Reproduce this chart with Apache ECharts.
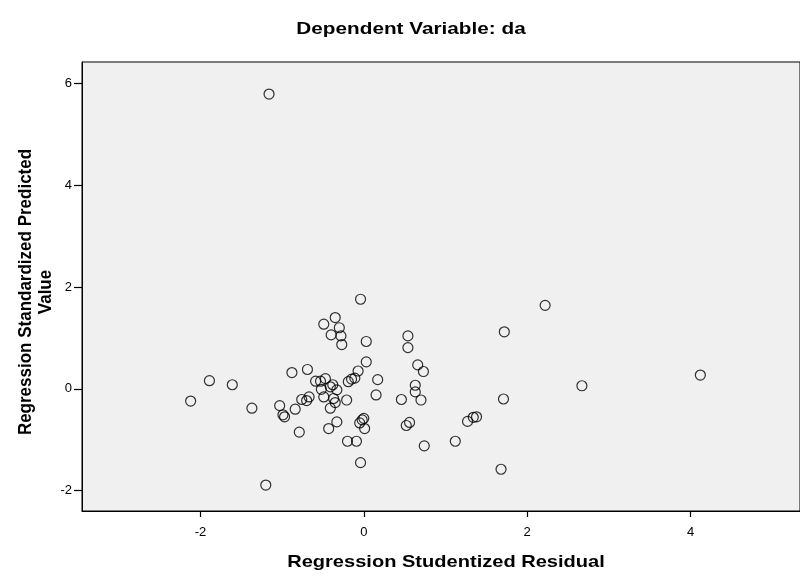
<!DOCTYPE html>
<html><head><meta charset="utf-8">
<script src="https://cdn.jsdelivr.net/npm/echarts@6/dist/echarts.min.js"></script>
<style>html,body{margin:0;padding:0;background:#fff}#c{width:800px;height:578px}</style>
</head><body><div id="c"></div>
<script>
const studentizedResidual = [-1.16,-0.04,-0.35,-0.49,-0.30,-0.40,-0.28,-0.27,0.03,0.03,-0.88,-0.69,-1.89,-1.61,-2.12,-1.37,-1.03,-0.99,-0.97,-0.84,-0.76,-0.70,-0.67,-0.79,-1.20,-0.59,-0.53,-0.47,-0.52,-0.49,-0.38,-0.41,-0.33,-0.37,-0.35,-0.41,-0.21,-0.19,-0.15,-0.11,-0.07,0.17,0.15,-0.33,-0.43,-0.05,-0.02,0.00,0.01,-0.20,-0.09,-0.04,0.54,0.54,0.66,0.73,0.63,0.63,0.46,0.70,1.72,1.71,0.52,0.56,1.27,1.34,1.38,0.74,1.12,2.22,2.67,4.12,1.68];
const standardizedPredicted = [5.79,1.76,1.40,1.27,1.20,1.06,1.04,0.87,0.93,0.53,0.32,0.38,0.16,0.08,-0.24,-0.38,-0.33,-0.51,-0.55,-0.40,-0.21,-0.23,-0.16,-0.85,-1.89,0.15,0.15,0.20,-0.01,-0.16,0.08,0.04,-0.02,-0.19,-0.27,-0.38,-0.22,0.14,0.19,0.21,0.35,0.18,-0.12,-0.65,-0.78,-0.67,-0.61,-0.58,-0.78,-1.03,-1.03,-1.45,1.04,0.81,0.47,0.34,0.07,-0.06,-0.21,-0.22,1.12,-0.20,-0.72,-0.66,-0.64,-0.56,-0.55,-1.12,-1.03,1.64,0.06,0.27,-1.58];
const xTicks = [-2, 0, 2, 4];
const yTicks = [-2, 0, 2, 4, 6];
const chartTitle = 'Dependent Variable: da';
const xName = 'Regression Studentized Residual';
const yName = 'Regression Standardized Predicted\nValue';

const pts = studentizedResidual.map((x, i) => [x, standardizedPredicted[i]]);
const chart = echarts.init(document.getElementById('c'));
const font = '"Liberation Sans", Arial, sans-serif';
const boldText = (text, lh) => ({text, fontFamily: font, fontWeight: 'bold', fontSize: 17, fill: '#000',
  textAlign: 'center', textVerticalAlign: 'middle', lineHeight: lh || 21});
chart.setOption({
  animation: false,
  backgroundColor: '#fff',
  graphic: [
    {type: 'text', x: 411, y: 29, scaleX: 1.22, style: boldText(chartTitle), z: 10},
    {type: 'text', x: 446, y: 562, scaleX: 1.18, style: boldText(xName), z: 10},
    {type: 'text', x: 36, y: 292, rotation: Math.PI / 2, scaleY: 1.12, style: boldText(yName, 18), z: 10}
  ],
  grid: {left: 82, top: 62, right: -1, bottom: 67, show: true,
         backgroundColor: '#f0f0f0', borderColor: '#000', borderWidth: 1},
  xAxis: {
    type: 'value', min: -3.45, max: 5.34, interval: 2,
    axisLine: {show: true, onZero: false, lineStyle: {color: '#000', width: 1}},
    axisTick: {show: true, inside: false, length: 6, lineStyle: {color: '#000', width: 1.2},
               customValues: xTicks},
    axisLabel: {fontFamily: font, fontSize: 13, color: '#000', margin: 15, customValues: xTicks},
    splitLine: {show: false}
  },
  yAxis: {
    type: 'value', min: -2.4, max: 6.42, interval: 2,
    axisLine: {show: true, onZero: false, lineStyle: {color: '#000', width: 1}},
    axisTick: {show: true, inside: false, length: 8, lineStyle: {color: '#000', width: 1.2},
               customValues: yTicks},
    axisLabel: {fontFamily: font, fontSize: 13, color: '#000', margin: 10, customValues: yTicks},
    splitLine: {show: false}
  },
  series: [{
    type: 'scatter', data: pts, symbol: 'circle', symbolSize: 10,
    itemStyle: {color: 'rgba(0,0,0,0)', borderColor: '#000', borderWidth: 1.2}
  }]
});
</script></body></html>
